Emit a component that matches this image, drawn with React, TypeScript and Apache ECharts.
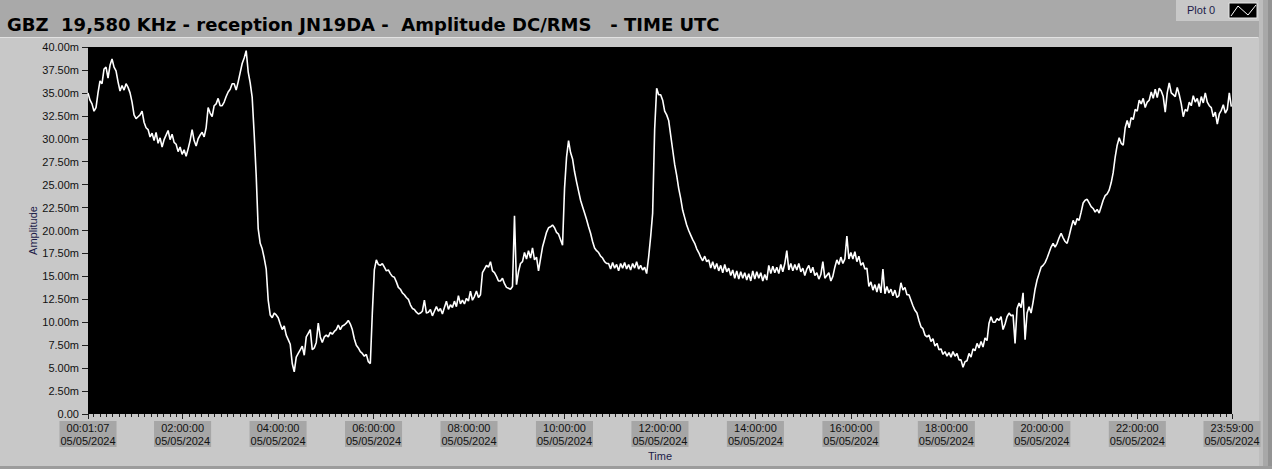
import { useEffect, useRef } from "react";
import * as echarts from "echarts";

// Waveform sampling: first sample at 00:01:07, one sample every 151 s
const T0_SECONDS = 67;
const DT_SECONDS = 151;

// Amplitude (mV DC/RMS), in time order
const ampNight = [
  35.0, 34.2, 33.8, 33.0, 33.4, 35.0, 36.3, 36.0, 37.6, 37.8,
  36.6, 38.0, 38.7, 37.8, 37.4, 36.2, 35.2, 35.8, 35.3, 36.0,
  35.6, 35.0, 34.0, 32.6, 32.2, 32.4, 32.6, 33.0, 31.8, 31.2,
  31.0, 30.2, 30.6, 29.8, 30.7, 29.5, 30.1, 29.1, 29.9, 30.4,
  30.9, 29.9, 30.5, 29.6, 29.4, 28.6, 29.1, 28.3, 28.8, 28.1,
  28.9, 29.8, 31.0, 29.8, 29.2, 30.0, 30.4, 30.7, 30.2, 31.2,
  33.4, 32.8, 32.4, 33.6, 33.8, 34.4, 33.6, 33.6, 34.0, 34.6,
  35.1, 35.4, 36.0, 36.0, 35.3, 36.2, 37.2, 38.2, 38.8, 39.6,
  37.3, 36.1, 34.5, 30.5, 26.0, 20.2, 18.6, 18.0, 17.0, 15.8,
  12.4, 10.8, 10.5, 11.0, 10.8, 10.5, 9.8, 9.2, 9.6, 8.6,
  8.1, 7.6, 5.5, 4.6, 6.2, 6.6, 7.0, 7.4, 6.4, 8.4,
  8.8, 9.2, 7.0, 7.2, 7.8, 9.9, 8.4, 7.8, 8.4, 8.6,
  8.4, 8.9, 8.7, 9.0, 9.2, 9.7, 9.2, 9.6, 9.7, 9.9,
  10.2, 9.8, 9.2, 8.2, 7.5, 7.2, 6.8, 6.6, 6.3, 6.5,
];
const ampMorning = [
  5.7, 5.5, 11.0, 15.7, 16.8, 16.3, 16.2, 16.4, 16.0, 15.6,
  15.7, 15.3, 15.0, 14.9, 14.4, 13.8, 13.6, 13.2, 13.0, 12.7,
  12.5, 11.9, 11.5, 11.4, 11.1, 10.9, 11.0, 11.2, 12.4, 11.0,
  11.1, 11.4, 10.7, 11.2, 11.7, 11.2, 11.5, 10.9, 11.6, 12.3,
  11.4, 11.9, 11.6, 12.3, 11.7, 12.9, 12.0, 12.4, 12.0, 12.6,
  12.3, 13.4, 12.4, 12.8, 13.4, 12.7, 13.0, 15.4, 15.8, 16.2,
  16.0, 16.6, 15.6, 15.4, 15.0, 14.5, 14.5, 14.8, 14.2, 13.8,
  13.7, 13.6, 13.9, 21.6, 14.1, 15.5, 16.4, 16.6, 17.6, 16.9,
  17.8, 17.0, 18.1, 16.8, 17.1, 15.6, 16.9, 18.2, 19.0, 19.8,
  20.3, 20.4, 20.6, 20.3, 19.8, 19.6, 19.0, 18.4, 24.6, 28.0,
  29.8, 28.5, 27.8, 26.4, 25.3, 24.3, 23.3, 22.6, 21.9, 21.2,
  20.4, 19.7, 18.8, 18.1, 17.8, 17.6, 17.2, 17.0, 16.6, 16.4,
  16.4, 15.8, 16.5, 15.9, 16.3, 15.6, 16.4, 15.9, 16.5, 15.8,
  16.3, 15.7, 16.4, 15.9, 16.6, 15.8, 16.2, 15.7, 16.0, 15.3,
];
const ampAfternoon = [
  17.1, 19.3, 21.9, 31.0, 35.5, 34.8, 34.8, 34.2, 33.0, 32.6,
  32.0, 30.4, 28.8, 27.2, 26.0, 24.6, 23.5, 22.2, 21.4, 20.6,
  20.0, 19.5, 19.0, 18.6, 18.0, 17.6, 17.1, 16.7, 17.2, 16.6,
  16.8, 15.9, 16.6, 15.8, 16.4, 15.6, 16.2, 15.4, 16.3, 15.5,
  15.9, 15.1, 15.7, 14.8, 15.6, 14.7, 15.5, 14.8, 15.4, 14.6,
  15.3, 14.5, 15.6, 14.7, 15.5, 14.8, 15.4, 14.5, 15.2, 14.6,
  16.2, 15.3, 16.1, 15.4, 16.0, 15.3, 16.3, 15.5, 16.4, 17.8,
  15.7, 16.4, 15.6, 16.3, 15.7, 16.4, 15.5, 15.9, 15.1, 15.8,
  16.2, 15.4, 16.0, 15.1, 15.4, 14.7, 15.2, 16.6, 14.8, 15.1,
  15.4, 14.5, 15.0, 16.0, 16.8, 16.3, 17.1, 16.4, 16.9, 19.4,
  16.9, 17.6, 16.9, 17.7, 16.6, 17.2, 16.2, 16.5, 15.8, 15.9,
  13.9, 14.4, 13.5, 14.1, 13.3, 14.2, 13.2, 15.8, 13.1, 13.9,
  13.2, 13.6, 12.9, 13.5, 12.7, 12.9, 14.3, 13.5, 13.8, 13.0,
  13.0, 12.4, 11.8, 11.3, 11.0, 10.2, 9.5, 9.3, 8.6, 8.4,
];
const ampEvening = [
  8.6, 7.9, 8.2, 7.4, 7.7, 7.0, 7.1, 6.5, 6.8, 6.3,
  6.7, 6.2, 6.8, 6.3, 6.6, 5.9, 5.9, 5.1, 5.7, 5.8,
  6.6, 6.2, 7.1, 6.9, 7.7, 7.2, 7.9, 7.3, 8.3, 8.0,
  9.9, 10.6, 10.0, 10.0, 10.4, 10.2, 10.6, 9.2, 9.8, 10.6,
  11.0, 10.7, 10.8, 7.7, 11.5, 12.1, 11.6, 13.2, 8.1, 11.0,
  11.7, 11.0, 12.2, 13.6, 14.6, 15.3, 16.0, 16.2, 16.5, 17.0,
  17.6, 18.2, 18.6, 18.2, 18.6, 19.2, 19.7, 19.2, 18.8, 18.6,
  19.4, 20.3, 21.1, 20.6, 21.3, 21.1, 22.0, 23.0, 23.3, 23.4,
  23.0, 22.6, 22.4, 22.0, 22.3, 21.9, 22.6, 23.3, 23.8, 24.0,
  24.4, 25.2, 26.3, 28.0, 29.3, 30.1, 29.5, 29.3, 31.2, 32.0,
  31.2, 32.3, 32.1, 33.2, 33.0, 34.2, 33.8, 34.4, 33.4, 34.0,
  34.2, 35.1, 34.4, 35.4, 34.5, 35.5, 35.2, 34.6, 32.9, 35.0,
  36.1, 35.0, 34.8, 34.6, 35.6, 34.8, 33.8, 32.4, 33.2, 33.0,
  34.0, 33.6, 34.7, 34.0, 34.4, 33.5, 34.6, 33.9, 35.0, 34.0,
  33.6, 33.4, 32.4, 32.9, 31.6, 32.7, 33.1, 33.7, 32.8, 33.2,
  35.0, 33.5,
];

const X_TICK_LABELS = [
  "00:01:07", "02:00:00", "04:00:00", "06:00:00", "08:00:00", "10:00:00", "12:00:00",
  "14:00:00", "16:00:00", "18:00:00", "20:00:00", "22:00:00", "23:59:00",
];
const DATE_LABEL = "05/05/2024";
const X_MINOR_STEP_SECONDS = 480;

const Y_MIN = 0;
const Y_MAX = 40;
const Y_STEP = 2.5;

const TITLE = "GBZ  19,580 KHz - reception JN19DA -  Amplitude DC/RMS   - TIME UTC";
const SERIES_NAME = "Plot 0";

const FONT = "'Liberation Sans', Arial, sans-serif";
const TITLE_FONT = "'DejaVu Sans', Verdana, sans-serif";
const NAVY = "#1c1c48";

function toSeconds(s: string): number {
  const [h, m, sec] = s.split(":").map(Number);
  return h * 3600 + m * 60 + sec;
}
function pad(n: number): string {
  return n < 10 ? "0" + n : "" + n;
}
function formatClock(sec: number): string {
  const s = Math.round(sec);
  return pad(Math.floor(s / 3600)) + ":" + pad(Math.floor((s % 3600) / 60)) + ":" + pad(s % 60);
}

export default function App() {
  const ref = useRef<HTMLDivElement>(null);

  useEffect(() => {
    document.body.style.margin = "0";
    if (!ref.current) return;
    const chart = echarts.init(ref.current, null, { renderer: "svg" });

    const amplitude = [...ampNight, ...ampMorning, ...ampAfternoon, ...ampEvening];
    const data = amplitude.map((v, i) => [T0_SECONDS + i * DT_SECONDS, v]);

    const labelSecs = X_TICK_LABELS.map(toSeconds);
    const xMin = labelSecs[0];
    const xMax = labelSecs[labelSecs.length - 1];
    const minorSecs: number[] = [];
    for (let s = Math.ceil(xMin / X_MINOR_STEP_SECONDS) * X_MINOR_STEP_SECONDS; s < xMax; s += X_MINOR_STEP_SECONDS) {
      if (labelSecs.indexOf(s) < 0) minorSecs.push(s);
    }
    // keep repeated blanks visible in SVG text
    const titleText = TITLE.replace(/ {2}/g, " \u00a0");

    chart.setOption({
      animation: false,
      backgroundColor: "#c8c8c8",
      title: {
        text: titleText,
        left: 2,
        top: 10,
        textStyle: { fontFamily: TITLE_FONT, fontSize: 18, fontWeight: "bold", color: "#000" },
      },
      grid: {
        left: 88,
        right: 40,
        top: 47,
        bottom: 55,
        show: true,
        backgroundColor: "#000",
        borderWidth: 0,
      },
      xAxis: [
        {
          type: "value",
          min: xMin,
          max: xMax,
          name: "Time",
          nameLocation: "middle",
          nameGap: 36,
          nameMoveOverlap: false,
          nameTextStyle: { fontFamily: FONT, fontSize: 11, color: NAVY },
          axisLine: { show: false },
          splitLine: { show: false },
          axisTick: {
            show: true,
            length: 5,
            customValues: labelSecs,
            lineStyle: { color: "#202020", width: 1 },
          },
          axisLabel: {
            customValues: labelSecs,
            formatter: (v: number) => formatClock(v) + "\n" + DATE_LABEL,
            fontFamily: FONT,
            fontSize: 11,
            lineHeight: 13,
            color: "#111",
            backgroundColor: "#a6a6a6",
            padding: [0, 1, 0, 1],
            margin: 7,
            hideOverlap: false,
            showMinLabel: true,
            showMaxLabel: true,
          },
        },
        {
          type: "value",
          min: xMin,
          max: xMax,
          position: "bottom",
          axisLine: { show: false },
          splitLine: { show: false },
          axisLabel: { show: false },
          axisTick: {
            show: true,
            length: 3,
            customValues: minorSecs,
            lineStyle: { color: "#202020", width: 1 },
          },
        },
      ],
      yAxis: {
        type: "value",
        min: Y_MIN,
        max: Y_MAX,
        interval: Y_STEP,
        name: "Amplitude",
        nameLocation: "middle",
        nameGap: 50,
        nameMoveOverlap: false,
        nameTextStyle: { fontFamily: FONT, fontSize: 11, color: NAVY },
        axisLine: { show: false },
        splitLine: { show: false },
        axisTick: { show: true, length: 6, lineStyle: { color: "#202020", width: 1 } },
        axisLabel: {
          formatter: (v: number) => (v === 0 ? "0.00" : v.toFixed(2) + "m"),
          fontFamily: FONT,
          fontSize: 11,
          color: "#111",
          margin: 9,
        },
      },
      series: [
        {
          name: SERIES_NAME,
          type: "line",
          xAxisIndex: 0,
          data,
          symbol: "none",
          showSymbol: false,
          silent: true,
          lineStyle: { color: "#ffffff", width: 1.6 },
        },
      ],
      graphic: [
        { type: "rect", shape: { x: 0, y: 0, width: 1272, height: 37 }, style: { fill: "#a9a9a9" }, z: -10 },
        { type: "line", shape: { x1: 0, y1: 37.5, x2: 1258, y2: 37.5 }, style: { stroke: "#e2e2e2", lineWidth: 1 }, z: -9 },
        { type: "rect", shape: { x: 1176, y: 0, width: 86, height: 21 }, style: { fill: "#c8c8c8" }, z: -9 },
        { type: "rect", shape: { x: 1259, y: 0, width: 4, height: 469 }, style: { fill: "#bdbdbd" }, z: -8 },
        { type: "rect", shape: { x: 1263, y: 0, width: 5, height: 469 }, style: { fill: "#a8a8a8" }, z: -8 },
        { type: "rect", shape: { x: 1268, y: 0, width: 4, height: 469 }, style: { fill: "#939393" }, z: -8 },
        { type: "rect", shape: { x: 0, y: 466, width: 1272, height: 3 }, style: { fill: "#9c9c9c" }, z: -8 },
        {
          type: "text",
          x: 1187,
          y: 10,
          style: { text: SERIES_NAME, fontFamily: FONT, fontSize: 11, fill: NAVY, verticalAlign: "middle" },
        },
        {
          type: "rect",
          shape: { x: 1229, y: 3, width: 28, height: 15 },
          style: { fill: "#000", stroke: "#e8e8e8", lineWidth: 1 },
        },
        {
          type: "polyline",
          shape: { points: [[1231, 16], [1238, 6], [1248, 15], [1256, 5]] },
          style: { stroke: "#fff", lineWidth: 1, fill: "none" },
        },
      ],
    });

    return () => chart.dispose();
  }, []);

  return <div ref={ref} style={{ width: 1272, height: 469 }} />;
}
